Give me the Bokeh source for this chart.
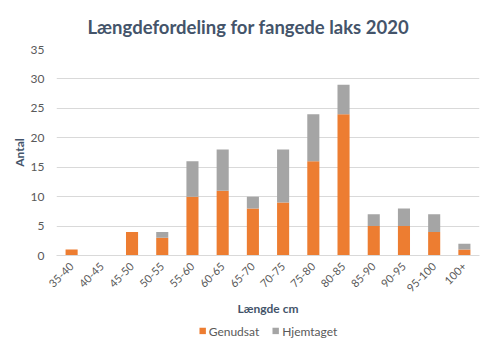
from bokeh.plotting import figure
from bokeh.layouts import column
from bokeh.models import Range1d, SingleIntervalTicker, Legend, LegendItem, ColumnDataSource
from bokeh.embed import file_html
from bokeh.resources import INLINE

categories = ["35-40", "40-45", "45-50", "50-55", "55-60", "60-65", "65-70",
              "70-75", "75-80", "80-85", "85-90", "90-95", "95-100", "100+"]
genudsat = [1, 0, 4, 3, 10, 11, 8, 9, 16, 24, 5, 5, 4, 1]
hjemtaget = [0, 0, 0, 1, 6, 7, 2, 9, 8, 5, 2, 3, 3, 1]
series = ["Genudsat", "Hjemtaget"]
colors = ["#ED7D31", "#A5A5A5"]

FONT = "Lato"

src = ColumnDataSource(dict(cat=categories, Genudsat=genudsat, Hjemtaget=hjemtaget))

p = figure(x_range=categories, y_range=Range1d(0, 35), width=484, height=318,
           output_backend="svg", toolbar_location=None,
           min_border_left=56, min_border_right=5, min_border_top=49, min_border_bottom=62)

p.title.text = "Længdefordeling for fangede laks 2020"
p.title.align = "left"
p.title.offset = 31
p.title.standoff = 24
p.title.text_font = FONT
p.title.text_font_size = "18.5px"
p.title.text_font_style = "bold"
p.title.text_color = "#44546A"

rs = p.vbar_stack(series, x="cat", width=0.4, source=src, color=colors, line_color=None)

p.outline_line_color = None
p.xgrid.grid_line_color = None
p.ygrid.grid_line_color = "#D9D9D9"
p.ygrid.grid_line_width = 1

p.yaxis.ticker = SingleIntervalTicker(interval=5)
p.yaxis.axis_line_color = None
p.yaxis.major_tick_line_color = None
p.yaxis.minor_tick_line_color = None
p.yaxis.major_label_text_font = FONT
p.yaxis.major_label_text_font_size = "12px"
p.yaxis.major_label_text_color = "#595959"
p.yaxis.axis_label = "Antal"
p.yaxis.axis_label_text_font = FONT
p.yaxis.axis_label_text_font_size = "12px"
p.yaxis.axis_label_text_font_style = "bold"
p.yaxis.axis_label_text_color = "#44546A"
p.yaxis.major_label_standoff = 6
p.yaxis.axis_label_standoff = 1

p.xaxis.axis_line_color = "#D9D9D9"
p.xaxis.major_tick_line_color = None
p.xaxis.minor_tick_line_color = None
p.xaxis.major_label_orientation = 0.785
p.xaxis.major_label_standoff = 3
p.xaxis.major_label_text_font = FONT
p.xaxis.major_label_text_font_size = "11px"
p.xaxis.major_label_text_color = "#595959"
p.xaxis.axis_label = "Længde cm"
p.xaxis.axis_label_standoff = 2
p.xaxis.axis_label_text_font = FONT
p.xaxis.axis_label_text_font_size = "12px"
p.xaxis.axis_label_text_font_style = "bold"
p.xaxis.axis_label_text_color = "#44546A"
p.x_range.range_padding = 0

# Legend strip below the chart (zero-height placeholder bars only feed the legend swatches)
p2 = figure(width=484, height=25, output_backend="svg", toolbar_location=None,
            x_axis_type=None, y_axis_type=None, min_border=0,
            x_range=Range1d(0, 1), y_range=Range1d(0, 1))
p2.outline_line_color = None
p2.xgrid.grid_line_color = None
p2.ygrid.grid_line_color = None
lr = [p2.vbar(x=[0], top=[0], width=0, color=c, line_color=None) for c in colors]
legend = Legend(items=[LegendItem(label=s, renderers=[r]) for s, r in zip(series, lr)],
                orientation="horizontal", location="center")
legend.label_text_font = FONT
legend.label_text_font_size = "12px"
legend.label_text_color = "#595959"
legend.glyph_width = 8
legend.glyph_height = 8
legend.border_line_color = None
legend.background_fill_alpha = 0
legend.padding = 2
legend.margin = 0
legend.spacing = 12
legend.label_standoff = 3
p2.add_layout(legend, "center")

layout = column(p, p2, spacing=0)

open("out.html", "w").write(file_html(layout, INLINE))
